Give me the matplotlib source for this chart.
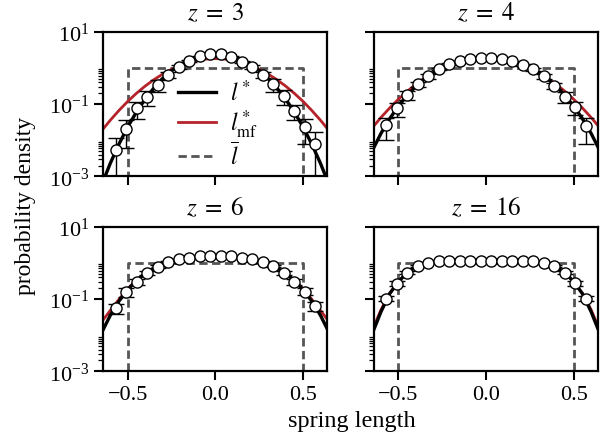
import matplotlib
matplotlib.use("Agg")
import matplotlib.pyplot as plt
from matplotlib.ticker import FixedLocator, NullFormatter

# ===============================================================================
#         Data
# ===============================================================================

z_values = [3, 4, 6, 16]

# histogram bin centres of the simulated spring lengths
x_bins = [-0.57, -0.51, -0.45, -0.39, -0.33, -0.27, -0.21, -0.15, -0.09, -0.03,
          0.03, 0.09, 0.15, 0.21, 0.27, 0.33, 0.39, 0.45, 0.51, 0.57]

hist_z3 = [0.0054, 0.021, 0.077, 0.158, 0.34, 0.63, 1.05, 1.58, 2.1, 2.45,
           2.45, 2.0, 1.49, 1.05, 0.65, 0.35, 0.167, 0.065, 0.0228, 0.0078]
err_z3 = [0.006, 0.015, 0.038, 0.07, 0.13, 0.12, 0.12, 0.1, 0.08, 0.05,
          0.05, 0.08, 0.1, 0.12, 0.12, 0.13, 0.07, 0.028, 0.015, 0.009]

hist_z4 = [0.026, 0.0757, 0.178, 0.347, 0.58, 0.93, 1.25, 1.52, 1.80, 1.92,
           1.92, 1.77, 1.52, 1.22, 0.91, 0.58, 0.325, 0.160, 0.081, 0.0248]
err_z4 = [0.016, 0.033, 0.05, 0.06, 0.08, 0.08, 0.08, 0.07, 0.06, 0.05,
          0.05, 0.06, 0.07, 0.08, 0.08, 0.08, 0.06, 0.05, 0.03, 0.017]

hist_z6 = [0.0552, 0.156, 0.295, 0.535, 0.768, 1.05, 1.25, 1.39, 1.51, 1.55,
           1.55, 1.51, 1.39, 1.25, 1.05, 0.817, 0.535, 0.301, 0.160, 0.064]
err_z6 = [0.016, 0.04, 0.06, 0.07, 0.07, 0.06, 0.05, 0.05, 0.04, 0.04,
          0.04, 0.04, 0.05, 0.05, 0.06, 0.07, 0.07, 0.06, 0.035, 0.017]

hist_z16 = [0.102, 0.265, 0.535, 0.817, 1.01, 1.12, 1.14, 1.148, 1.148, 1.148,
            1.148, 1.148, 1.148, 1.14, 1.10, 0.99, 0.817, 0.535, 0.27, 0.102]
err_z16 = [0.016, 0.043, 0.05, 0.05, 0.04, 0.03, 0.03, 0.03, 0.03, 0.03,
           0.03, 0.03, 0.03, 0.03, 0.03, 0.04, 0.05, 0.05, 0.043, 0.016]

# theory curves sampled on a grid
x_curve = [-0.65, -0.60, -0.55, -0.50, -0.45, -0.40, -0.35, -0.30, -0.25,
           -0.20, -0.15, -0.10, -0.05, 0.00, 0.05, 0.10, 0.15, 0.20, 0.25,
           0.30, 0.35, 0.40, 0.45, 0.50, 0.55, 0.60, 0.65]

exact_z3 = [0.00057, 0.0023, 0.0079, 0.0235, 0.061, 0.139, 0.281, 0.51, 0.835,
            1.24, 1.68, 2.07, 2.35, 2.45, 2.35, 2.07, 1.68, 1.24, 0.835,
            0.51, 0.281, 0.139, 0.061, 0.0235, 0.0079, 0.0023, 0.00057]
mf_z3 = [0.0181, 0.0357, 0.0668, 0.119, 0.199, 0.316, 0.475, 0.676, 0.912,
         1.17, 1.41, 1.62, 1.75, 1.80, 1.75, 1.62, 1.41, 1.17, 0.912,
         0.676, 0.475, 0.316, 0.199, 0.119, 0.0668, 0.0357, 0.0181]

exact_z4 = [0.0051, 0.0154, 0.0394, 0.0881, 0.174, 0.309, 0.497, 0.735, 1.01,
            1.29, 1.55, 1.76, 1.90, 1.95, 1.90, 1.76, 1.55, 1.29, 1.01,
            0.735, 0.497, 0.309, 0.174, 0.0881, 0.0394, 0.0154, 0.0051]
mf_z4 = [0.0219, 0.0425, 0.078, 0.136, 0.225, 0.353, 0.525, 0.741, 0.992,
         1.26, 1.52, 1.73, 1.87, 1.92, 1.87, 1.73, 1.52, 1.26, 0.992,
         0.741, 0.525, 0.353, 0.225, 0.136, 0.078, 0.0425, 0.0219]

exact_z6 = [0.0115, 0.0352, 0.0875, 0.181, 0.323, 0.506, 0.715, 0.927, 1.12,
            1.28, 1.41, 1.50, 1.55, 1.57, 1.55, 1.50, 1.41, 1.28, 1.12,
            0.927, 0.715, 0.506, 0.323, 0.181, 0.0875, 0.0352, 0.0115]
mf_z6 = [0.023, 0.048, 0.098, 0.192, 0.335, 0.515, 0.72, 0.925, 1.11,
         1.27, 1.39, 1.48, 1.53, 1.55, 1.53, 1.48, 1.39, 1.27, 1.11,
         0.925, 0.72, 0.515, 0.335, 0.192, 0.098, 0.048, 0.023]

exact_z16 = [0.0109, 0.044, 0.140, 0.30, 0.535, 0.76, 0.94, 1.07, 1.135,
             1.145, 1.148, 1.15, 1.15, 1.15, 1.15, 1.15, 1.148, 1.145, 1.135,
             1.07, 0.94, 0.76, 0.535, 0.30, 0.140, 0.044, 0.0109]
mf_z16 = [0.0135, 0.050, 0.143, 0.30, 0.535, 0.76, 0.94, 1.07, 1.135,
          1.145, 1.148, 1.15, 1.15, 1.15, 1.15, 1.15, 1.148, 1.145, 1.135,
          1.07, 0.94, 0.76, 0.535, 0.30, 0.143, 0.050, 0.0135]

# rest length distribution (uniform on [-1/2, 1/2])
x_bar = [-0.7, -0.5, -0.5, 0.5, 0.5, 0.7]
p_bar = [0.0, 0.0, 1.0, 1.0, 0.0, 0.0]

hists = [hist_z3, hist_z4, hist_z6, hist_z16]
errs = [err_z3, err_z4, err_z6, err_z16]
exacts = [exact_z3, exact_z4, exact_z6, exact_z16]
mfs = [mf_z3, mf_z4, mf_z6, mf_z16]

# ===============================================================================
#         Plotting
# ===============================================================================

plt.rcParams["font.family"] = "serif"
plt.rcParams["font.serif"] = ["Liberation Serif", "DejaVu Serif"]
plt.rcParams["mathtext.fontset"] = "stix"
plt.rcParams["font.size"] = 16

RED = "#b5222a"
GREY = "#555555"

fig = plt.figure(figsize=(6.11, 4.35), dpi=100)

# axes boxes in figure fractions: [left, bottom, width, height]
boxes = [
    [0.169, 0.592, 0.367, 0.333],
    [0.612, 0.592, 0.367, 0.333],
    [0.169, 0.144, 0.367, 0.333],
    [0.612, 0.144, 0.367, 0.333],
]

minor_y = [k * 1e-3 for k in range(2, 10)] + [k * 1e-1 for k in range(2, 10)]

for i, z in enumerate(z_values):
    ax = fig.add_axes(boxes[i])
    ax.plot(x_bar, p_bar, color=GREY, lw=2, ls=(0, (3, 1.6)), zorder=2,
            label=r"$\overline{l}$")
    ax.plot(x_curve, mfs[i], color=RED, lw=2, zorder=2.1,
            label=r"$l^*_\mathrm{mf}$")
    ax.plot(x_curve, exacts[i], color="k", lw=2.4, zorder=2.2,
            label=r"$l^*$")
    ax.errorbar(x_bins, hists[i], yerr=errs[i], fmt="o", color="k",
                mfc="white", mec="k", ms=8, mew=1.0, elinewidth=1.0,
                capsize=6, capthick=1.0, zorder=4)

    ax.set_yscale("log", nonpositive="clip")
    ax.set_ylim(1e-3, 1e1)
    ax.set_xlim(-0.64, 0.64)
    ax.set_yticks([1e-3, 1e-1, 1e1])
    ax.yaxis.set_minor_locator(FixedLocator(minor_y))
    ax.yaxis.set_minor_formatter(NullFormatter())
    ax.set_xticks([-0.5, 0.0, 0.5])
    ax.tick_params(which="major", direction="out", length=6.5, width=1.5,
                   labelsize=16)
    ax.tick_params(which="minor", direction="out", length=3.5, width=0.9)
    for sp in ax.spines.values():
        sp.set_linewidth(1.6)

    if i < 2:
        ax.tick_params(labelbottom=False)
    if i % 2 == 1:
        ax.tick_params(labelleft=False)

    ax.set_title(r"$z\;=\;%d$" % z, fontsize=18, pad=9)

    if i == 0:
        handles, labels = ax.get_legend_handles_labels()
        order = [2, 1, 0]
        ax.legend([handles[k] for k in order], [labels[k] for k in order],
                  loc="center", bbox_to_anchor=(0.51, 0.36), frameon=False,
                  fontsize=17, handlelength=1.6, handletextpad=0.6,
                  labelspacing=0.1, borderpad=0.0)

fig.text(0.041, 0.526, "probability density", rotation=90,
         ha="center", va="center", fontsize=17)
fig.text(0.576, 0.032, "spring length", ha="center", va="center",
         fontsize=17.5)

fig.savefig("out.png", dpi=100)
